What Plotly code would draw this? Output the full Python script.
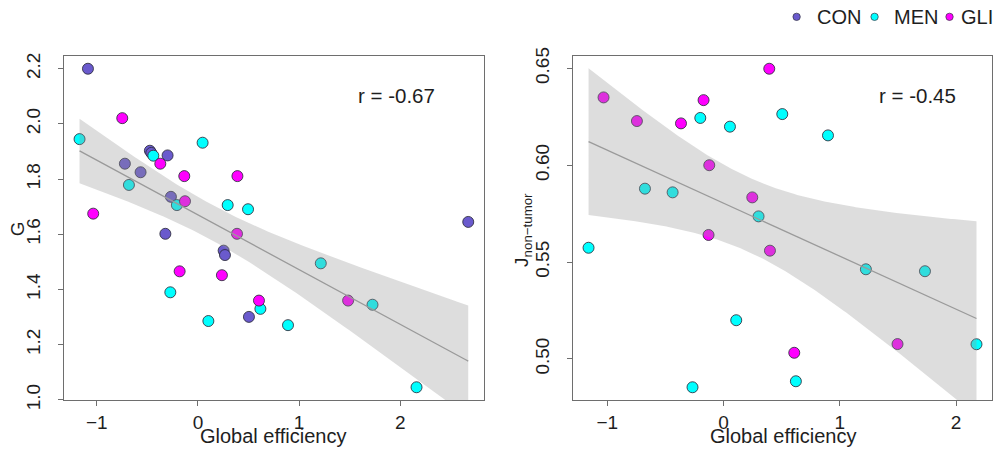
import numpy as np
import plotly.graph_objects as go

# ---------------- data: left panel (G vs global efficiency) ----------------
left_con_x = [-1.087, -0.475, -0.461, -0.300, -0.722, -0.567, -0.267, -0.322, 2.671, 0.254, 0.267, 0.504]
left_con_y = [2.200, 1.903, 1.895, 1.886, 1.856, 1.825, 1.736, 1.602, 1.645, 1.541, 1.525, 1.301]
left_men_x = [-1.170, -0.441, -0.682, 0.046, -0.208, 0.294, 0.495, 1.214, -0.273, 0.617, 0.103, 0.890, 1.725, 2.160]
left_men_y = [1.945, 1.885, 1.779, 1.932, 1.706, 1.706, 1.691, 1.495, 1.390, 1.330, 1.286, 1.271, 1.345, 1.046]
left_gli_x = [-0.748, -0.372, -1.035, -0.135, 0.390, -0.128, 0.386, -0.181, 0.237, 0.603, 1.484]
left_gli_y = [2.021, 1.856, 1.675, 1.811, 1.811, 1.720, 1.602, 1.466, 1.452, 1.360, 1.360]

# ---------------- data: right panel (J non-tumor vs global efficiency) ----------------
right_men_x = [-0.200, 0.055, 0.505, 0.898, -0.676, -0.438, 0.301, -1.161, 1.224, 1.732, 0.109, 2.175, 0.622, -0.267]
right_men_y = [0.6244, 0.6199, 0.6264, 0.6154, 0.5879, 0.5860, 0.5736, 0.5574, 0.5463, 0.5453, 0.5200, 0.5076, 0.4885, 0.4854]
right_gli_x = [-1.032, -0.745, -0.366, -0.172, 0.393, -0.123, 0.247, -0.129, 0.399, 1.496, 0.608]
right_gli_y = [0.6350, 0.6228, 0.6216, 0.6336, 0.6498, 0.6000, 0.5834, 0.5640, 0.5559, 0.5077, 0.5032]

group_names = ["CON", "MEN", "GLI"]
group_colors = {"CON": "#6a5acd", "MEN": "#00ffff", "GLI": "#ff00ff"}
r_labels = ["r = -0.67", "r = -0.45"]
x_title = "Global efficiency"
y_titles = ["G", "J<sub>non\u2212tumor</sub>"]
left_yticks = [1.0, 1.2, 1.4, 1.6, 1.8, 2.0, 2.2]
right_yticks = [0.50, 0.55, 0.60, 0.65]
xticks = [-1, 0, 1, 2]

FONT = "Liberation Sans, Arial, Helvetica, sans-serif"
TXT = "#1e1e1e"


def t975(df):
    z = 1.959963985
    return (z + (z**3 + z) / (4 * df) + (5 * z**5 + 16 * z**3 + 3 * z) / (96 * df**2)
            + (3 * z**7 + 19 * z**5 + 17 * z**3 - 15 * z) / (384 * df**3))


def fit_band(x, y):
    x = np.asarray(x, float)
    y = np.asarray(y, float)
    n = len(x)
    b, a = np.polyfit(x, y, 1)
    resid = y - (a + b * x)
    s = np.sqrt(np.sum(resid**2) / (n - 2))
    xb = x.mean()
    sxx = np.sum((x - xb) ** 2)
    grid = np.linspace(x.min(), x.max(), 200)
    fit = a + b * grid
    se = s * np.sqrt(1.0 / n + (grid - xb) ** 2 / sxx)
    t = t975(n - 2)
    return grid, fit, fit - t * se, fit + t * se


def r_range(vals):
    v = np.asarray(vals, float)
    lo, hi = v.min(), v.max()
    d = (hi - lo) * 0.04
    return [lo - d, hi + d]


fig = go.Figure()

panels = [
    {"xa": "x", "ya": "y", "groups": [("CON", left_con_x, left_con_y), ("MEN", left_men_x, left_men_y),
                                      ("GLI", left_gli_x, left_gli_y)]},
    {"xa": "x2", "ya": "y2", "groups": [("MEN", right_men_x, right_men_y), ("GLI", right_gli_x, right_gli_y)]},
]

for p in panels:
    allx, ally = [], []
    for name, gx, gy in p["groups"]:
        allx += gx
        ally += gy
        fig.add_trace(go.Scatter(
            x=gx, y=gy, mode="markers", xaxis=p["xa"], yaxis=p["ya"], showlegend=False, name=name,
            marker=dict(size=11, color=group_colors[name], line=dict(color="rgba(45,45,60,0.85)", width=1)),
        ))
    grid, fit, lo, hi = fit_band(allx, ally)
    fig.add_trace(go.Scatter(
        x=np.concatenate([grid, grid[::-1]]), y=np.concatenate([hi, lo[::-1]]),
        mode="lines", fill="toself", fillcolor="rgba(150,150,150,0.32)", line=dict(width=0),
        xaxis=p["xa"], yaxis=p["ya"], showlegend=False, hoverinfo="skip",
    ))
    fig.add_trace(go.Scatter(
        x=grid, y=fit, mode="lines", line=dict(color="#9a9a9a", width=1.3),
        xaxis=p["xa"], yaxis=p["ya"], showlegend=False,
    ))
    p["xr"] = r_range(allx)
    p["yr"] = r_range(ally)

# page has an 8px body margin: the figure is drawn at (8, 8) inside the window,
# sized so that the page does not overflow the window
OFF = 8
W, H = 1001 - 2 * OFF, 456 - 2 * OFF
L, T = 64 - OFF, 55.7 - OFF
R = max(W - (992.7 - OFF), 0.5)
B = H - (400 - OFF)
PW, PH = W - L - R, H - T - B


def px(xp):
    return (xp - OFF - L) / PW


def py(yp):
    return (H - B - (yp - OFF)) / PH


axis_common = dict(showline=True, mirror=True, linecolor="#6e6e6e", linewidth=1, ticks="outside",
                   ticklen=5, tickcolor="#6e6e6e", showgrid=False, zeroline=False, automargin=False,
                   tickfont=dict(size=19, color=TXT, family=FONT))

fig.update_layout(
    width=W, height=H, margin=dict(l=L, r=R, t=T, b=B),
    paper_bgcolor="white", plot_bgcolor="white",
    font=dict(family=FONT, color=TXT),
    xaxis=dict(domain=[0, px(484)], range=panels[0]["xr"], tickvals=xticks, anchor="y",
               tickformat="d", **axis_common),
    yaxis=dict(domain=[0, 1], range=panels[0]["yr"], tickvals=left_yticks,
               tickformat=".1f", tickangle=-90, anchor="x", ticklabelstandoff=10, **axis_common),
    xaxis2=dict(domain=[px(573.3), 1], range=panels[1]["xr"], tickvals=xticks, anchor="y2",
                tickformat="d", **axis_common),
    yaxis2=dict(domain=[0, 1], range=panels[1]["yr"], tickvals=right_yticks, tickformat=".2f",
                tickangle=-90, anchor="x2", ticklabelstandoff=10, **axis_common),
    showlegend=False,
)


def annot(text, xp, yp, size, angle=0, xanchor="center"):
    return dict(text=text, x=px(xp), y=py(yp), xref="paper", yref="paper", showarrow=False,
                xanchor=xanchor, yanchor="middle", textangle=angle,
                font=dict(size=size, family=FONT, color=TXT))


ann = [
    annot(r_labels[0], 396.5, 95, 20.5),
    annot(r_labels[1], 918, 95, 20.5),
    annot(x_title, 273, 436.5, 20),
    annot(x_title, 783, 436.5, 20),
    annot(y_titles[0], 17, 229, 19, -90),
    annot(y_titles[1], 523, 230, 19, -90),
]

# legend drawn as dots + labels at the top right
legend_dot_x = [797, 875, 950]
legend_txt_x = [815, 892, 959]
LEG_Y = 16.5
shapes = []
for name, dx, tx in zip(group_names, legend_dot_x, legend_txt_x):
    r = 3.7
    shapes.append(dict(type="circle", xref="paper", yref="paper",
                       x0=px(dx - r), x1=px(dx + r), y0=py(LEG_Y + r), y1=py(LEG_Y - r),
                       fillcolor=group_colors[name], line=dict(color="rgba(45,45,60,0.85)", width=0.8)))
    ann.append(annot(name, tx, LEG_Y, 20, xanchor="left"))

fig.update_layout(annotations=ann, shapes=shapes)

fig.write_html("out.html")
